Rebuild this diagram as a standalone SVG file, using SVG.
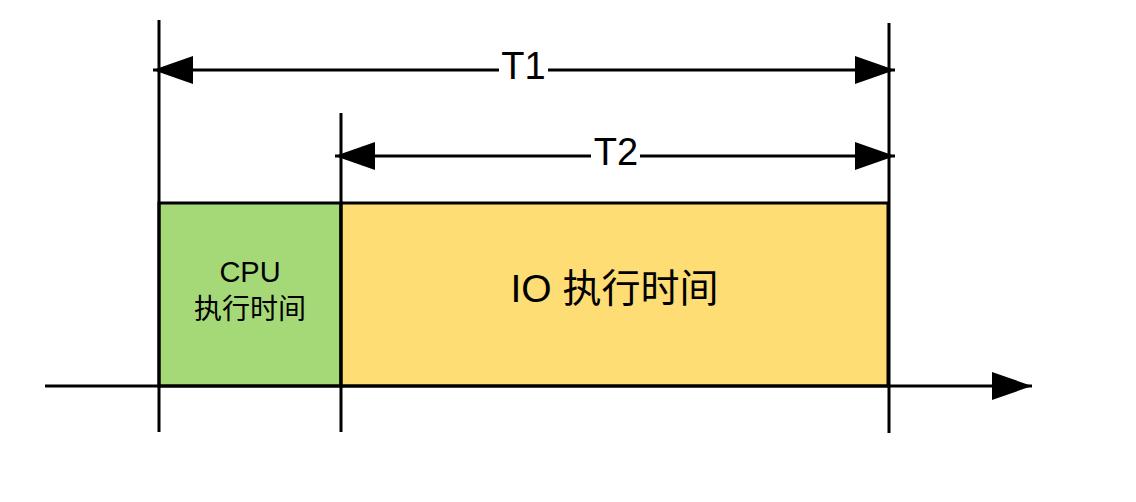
<svg xmlns="http://www.w3.org/2000/svg" width="1136" height="502" viewBox="0 0 1136 502">
<style>
.ln{stroke:#000;stroke-width:3;fill:none}
.box{stroke:#000;stroke-width:3}
.lbl{font-family:"Liberation Sans","Noto Sans CJK SC",sans-serif;fill:#000;text-anchor:middle}
</style>
<defs>
<marker id="ah" markerUnits="userSpaceOnUse" markerWidth="42" markerHeight="30" refX="40" refY="14" orient="auto-start-reverse" viewBox="0 0 42 30">
<path d="M0,0 L40,14 L0,28 z" fill="#000"/>
</marker>
</defs>
<rect width="1136" height="502" fill="#fff"/>
<g id="cpu">
<rect class="box" x="159" y="203" width="182" height="183" fill="#a5d978"/>
<text class="lbl" x="250" y="282" font-size="29">CPU</text>
<text class="lbl" x="250" y="319" font-size="28">执行时间</text>
</g>
<g id="io">
<rect class="box" x="341" y="203" width="547" height="183" fill="#ffdd75"/>
<text class="lbl" x="614.5" y="302" font-size="39">IO 执行时间</text>
</g>
<g id="connectors">
<line class="ln" x1="45" y1="386" x2="1032" y2="386" marker-end="url(#ah)"/>
<line class="ln" x1="159" y1="20" x2="159" y2="432"/>
<line class="ln" x1="341" y1="113" x2="341" y2="432"/>
<line class="ln" x1="889" y1="23" x2="889" y2="433"/>
<line class="ln" x1="153" y1="70" x2="895" y2="70" marker-start="url(#ah)" marker-end="url(#ah)"/>
<line class="ln" x1="335" y1="156" x2="895" y2="156" marker-start="url(#ah)" marker-end="url(#ah)"/>
</g>
<g id="t1">
<rect x="499" y="52" width="49" height="34" fill="#fff"/>
<text class="lbl" x="523.5" y="79" font-size="38">T1</text>
</g>
<g id="t2">
<rect x="591" y="138" width="49" height="34" fill="#fff"/>
<text class="lbl" x="616" y="165" font-size="38">T2</text>
</g>
</svg>
